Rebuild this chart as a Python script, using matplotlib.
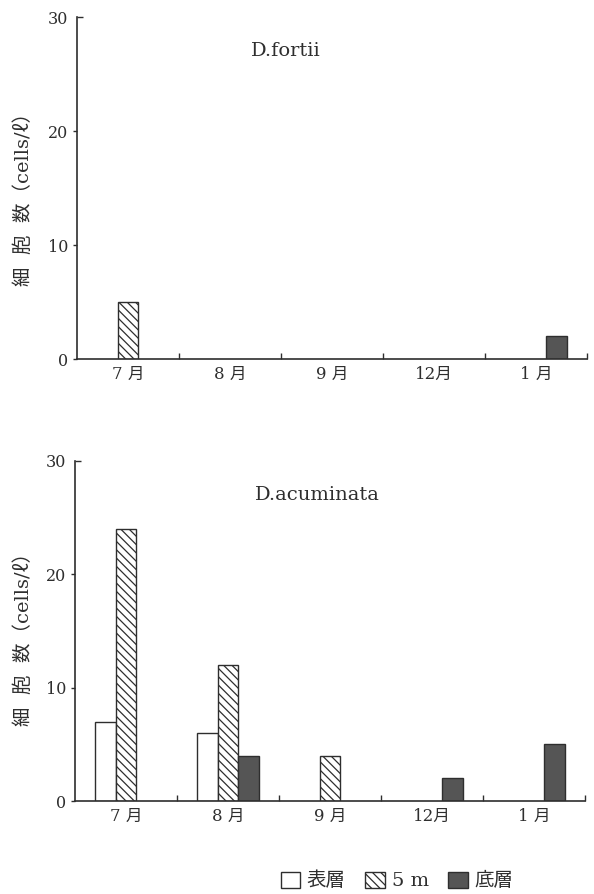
import matplotlib
matplotlib.use("Agg")
import matplotlib.pyplot as plt
import numpy as np
from matplotlib.patches import Patch
from matplotlib.ticker import FixedLocator, FixedFormatter, NullFormatter

# ---- data ----
months = ["7 月", "8 月", "9 月", "12月", "1 月"]
layers = ["表層", "5 m", "底層"]
fortii_surface = [0, 0, 0, 0, 0]
fortii_5m = [5, 0, 0, 0, 0]
fortii_bottom = [0, 0, 0, 0, 2]
acum_surface = [7, 6, 0, 0, 0]
acum_5m = [24, 12, 4, 0, 0]
acum_bottom = [0, 4, 0, 2, 5]
titles = ["D.fortii", "D.acuminata"]
yticks = [0, 10, 20]
ytop = 30

INK = "#2e2e2e"
DARK = "#555555"
plt.rcParams["hatch.linewidth"] = 0.9
plt.rcParams["hatch.color"] = INK

fig = plt.figure(figsize=(5.94, 8.94), dpi=100)
ax1 = fig.add_axes([77/594, 1-359/894, 510/594, 342/894])
ax2 = fig.add_axes([75/594, 1-801/894, 510/594, 340/894])

serif_cjk = ["DejaVu Serif", "Noto Sans CJK JP"]

def draw(ax, surf, m5, bot, title, tx, ty):
    x = np.arange(len(months)) + 0.5
    w = 0.2
    styles = [dict(facecolor="white", edgecolor=INK),
              dict(facecolor="white", edgecolor=INK, hatch="\\\\\\\\"),
              dict(facecolor=DARK, edgecolor=INK)]
    for i, vals in enumerate([surf, m5, bot]):
        v = np.array(vals, dtype=float)
        mask = v > 0
        ax.bar(x[mask] + (i - 1) * w, v[mask], width=w, linewidth=1.0, **styles[i])
    ax.set_xlim(0, len(months))
    ax.set_ylim(0, ytop)
    for s in ["top", "right"]:
        ax.spines[s].set_visible(False)
    for s in ["left", "bottom"]:
        ax.spines[s].set_color(INK)
        ax.spines[s].set_linewidth(1.2)
    # x ticks: boundaries (major, no label), centers (minor, labels)
    ax.xaxis.set_major_locator(FixedLocator(np.arange(1, len(months) + 1)))
    ax.xaxis.set_major_formatter(NullFormatter())
    ax.xaxis.set_minor_locator(FixedLocator(x))
    ax.xaxis.set_minor_formatter(FixedFormatter(months))
    ax.tick_params(axis="x", which="major", direction="in", length=4, width=1.0, color=INK)
    ax.tick_params(axis="x", which="minor", length=0, pad=5, labelcolor=INK)
    for lab in ax.get_xticklabels(minor=True):
        lab.set_family(serif_cjk)
        lab.set_fontsize(12)
    # y ticks
    ax.yaxis.set_major_locator(FixedLocator(yticks))
    ax.yaxis.set_minor_locator(FixedLocator([ytop]))
    ax.yaxis.set_minor_formatter(FixedFormatter([str(ytop)]))
    ax.tick_params(axis="y", which="major", direction="out", length=3, width=1.0,
                   color=INK, pad=3.5, labelcolor=INK)
    ax.tick_params(axis="y", which="minor", direction="in", length=4, width=1.0,
                   color=INK, pad=6.5, labelcolor=INK)
    for lab in ax.get_yticklabels() + ax.get_yticklabels(minor=True):
        lab.set_family("DejaVu Serif")
        lab.set_fontsize(11.5)
    ax.text(tx, ty, title, transform=ax.transAxes, ha="center", va="center",
            family="DejaVu Serif", fontsize=14, color=INK)

draw(ax1, fortii_surface, fortii_5m, fortii_bottom, titles[0], 0.41, 0.90)
draw(ax2, acum_surface, acum_5m, acum_bottom, titles[1], 0.475, 0.90)

ylabel = "細  胞  数（cells/ℓ）"
fig.text(24/594, 1-195/894, ylabel, rotation=90, ha="center", va="center",
         family=serif_cjk, fontsize=14, color=INK)
fig.text(24/594, 1-635/894, ylabel, rotation=90, ha="center", va="center",
         family=serif_cjk, fontsize=14, color=INK)

handles = [Patch(facecolor="white", edgecolor=INK, linewidth=1.0),
           Patch(facecolor="white", edgecolor=INK, linewidth=1.0, hatch="\\\\\\\\"),
           Patch(facecolor=DARK, edgecolor=INK, linewidth=1.0)]
leg = fig.legend(handles, layers, loc="center", bbox_to_anchor=(397/594, 1-881/894),
                 ncol=3, frameon=False, handlelength=1.0, handleheight=0.9,
                 handletextpad=0.35, columnspacing=1.0, borderpad=0,
                 prop={"family": serif_cjk, "size": 14})
for t in leg.get_texts():
    t.set_color(INK)

fig.savefig("out.png", dpi=100)
